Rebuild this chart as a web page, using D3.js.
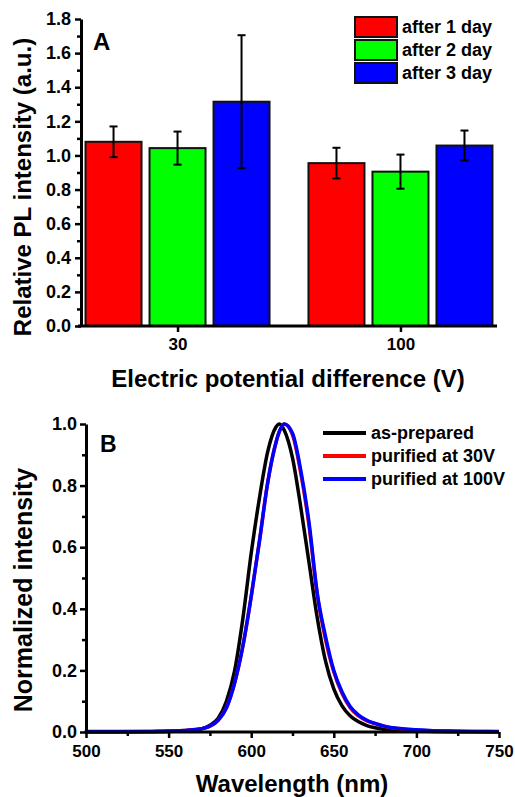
<!DOCTYPE html>
<html>
<head>
<meta charset="utf-8">
<script src="https://cdn.jsdelivr.net/npm/d3@7"></script>
<style>
  html, body { margin: 0; padding: 0; background: #fff; }
  svg text { font-family: "Liberation Sans", Arial, sans-serif; font-weight: bold; fill: #000; }
</style>
</head>
<body>
<svg id="chart" width="515" height="797"></svg>
<script>
// ---- panel A data ----
const barCategories = ["30", "100"];
const barSeries = ["after 1 day", "after 2 day", "after 3 day"];
const barColors = ["#ff0000", "#00ff00", "#0000ff"];
const day1Values = [1.08, 0.955];
const day2Values = [1.043, 0.905];
const day3Values = [1.315, 1.058];
const day1Errors = [0.09, 0.09];
const day2Errors = [0.097, 0.1];
const day3Errors = [0.39, 0.088];
const barTicksY = [0, 0.2, 0.4, 0.6, 0.8, 1.0, 1.2, 1.4, 1.6, 1.8];

// ---- panel B data ----
const wavelengths = [500, 520, 540, 550, 555, 560, 565, 570, 575, 580, 585, 590, 595, 600, 605, 610, 615, 617, 620,
  625, 630, 635, 640, 645, 650, 655, 660, 665, 670, 675, 680, 690, 700, 710, 720, 735, 750];
const asPrepared = [0, 0, 0.001, 0.002, 0.003, 0.004, 0.006, 0.01, 0.022, 0.045, 0.1, 0.2, 0.37, 0.58, 0.76, 0.91, 0.99, 1.0, 0.98,
  0.89, 0.73, 0.55, 0.37, 0.23, 0.14, 0.085, 0.052, 0.033, 0.021, 0.014, 0.009, 0.005, 0.003, 0.002, 0.001, 0.0005, 0];
const purified30 = [0.001, 0.001, 0.002, 0.003, 0.004, 0.005, 0.007, 0.011, 0.019, 0.038, 0.08, 0.16, 0.28, 0.44, 0.62, 0.81, 0.94, 0.975, 1.0,
  0.965, 0.84, 0.67, 0.445, 0.3, 0.195, 0.125, 0.078, 0.052, 0.036, 0.027, 0.019, 0.01, 0.006, 0.004, 0.003, 0.002, 0.001];
const purified100 = [0.002, 0.002, 0.002, 0.003, 0.004, 0.005, 0.007, 0.011, 0.019, 0.038, 0.078, 0.16, 0.28, 0.44, 0.62, 0.81, 0.94, 0.975, 1.0,
  0.97, 0.85, 0.68, 0.45, 0.31, 0.2, 0.13, 0.082, 0.055, 0.038, 0.028, 0.02, 0.011, 0.007, 0.004, 0.003, 0.002, 0.002];
const specNames = ["as-prepared", "purified at 30V", "purified at 100V"];
const specColors = ["#000000", "#ff0000", "#0000ff"];
const specTicksX = [500, 550, 600, 650, 700, 750];
const specTicksY = [0, 0.2, 0.4, 0.6, 0.8, 1.0];

const svg = d3.select("#chart");

function styleAxis(g, fontSize) {
  g.select(".domain").attr("stroke", "#000").attr("stroke-width", 3);
  g.selectAll(".tick line").attr("stroke", "#000").attr("stroke-width", 2.5);
  g.selectAll(".tick text").style("font-size", fontSize + "px");
  g.attr("font-family", null);
}

// ================= Panel A =================
const aLeft = 81, aRight = 497, aTop = 19, aBottom = 326;

const xA = d3.scalePoint().domain(barCategories).range([aLeft, aRight]).padding(0.433);
const subA = d3.scaleBand().domain(barSeries).range([-96, 96]).paddingInner(0.125).paddingOuter(0.0625);
const yA = d3.scaleLinear().domain([0, 1.8]).range([aBottom, aTop]);

const barValues = [day1Values, day2Values, day3Values];
const barErrors = [day1Errors, day2Errors, day3Errors];
const barRows = [];
barSeries.forEach((s, si) => {
  barCategories.forEach((c, ci) => {
    barRows.push({ cat: c, series: s, color: barColors[si], value: barValues[si][ci], err: barErrors[si][ci] });
  });
});

const barG = svg.append("g");
barG.selectAll("rect").data(barRows).enter().append("rect")
  .attr("x", d => xA(d.cat) + subA(d.series))
  .attr("y", d => yA(d.value))
  .attr("width", subA.bandwidth())
  .attr("height", d => yA(0) - yA(d.value))
  .attr("fill", d => d.color)
  .attr("stroke", "#111")
  .attr("stroke-width", 2);

const errG = svg.append("g").attr("stroke", "#000").attr("stroke-width", 2);
barRows.forEach(d => {
  const cx = xA(d.cat) + subA(d.series) + subA.bandwidth() / 2;
  const y1 = yA(d.value + d.err), y0 = yA(d.value - d.err);
  errG.append("line").attr("x1", cx).attr("x2", cx).attr("y1", y1).attr("y2", y0);
  errG.append("line").attr("x1", cx - 4).attr("x2", cx + 4).attr("y1", y1).attr("y2", y1);
  errG.append("line").attr("x1", cx - 4).attr("x2", cx + 4).attr("y1", y0).attr("y2", y0);
});

// y axis A (minor ticks then major)
const minorA = d3.range(0.1, 1.8, 0.2);
svg.append("g").attr("transform", `translate(${aLeft},0)`)
  .call(d3.axisLeft(yA).tickValues(minorA).tickSize(4).tickFormat(""))
  .call(g => { styleAxis(g, 18); g.select(".domain").remove(); });
svg.append("g").attr("transform", `translate(${aLeft},0)`)
  .call(d3.axisLeft(yA).tickValues(barTicksY).tickSize(6).tickSizeOuter(0).tickPadding(4).tickFormat(d3.format(".1f")))
  .call(g => styleAxis(g, 18));

// x axis A
svg.append("g").attr("transform", `translate(0,${aBottom})`)
  .call(d3.axisBottom(xA).tickSize(6).tickSizeOuter(0).tickPadding(6))
  .call(g => { styleAxis(g, 17); g.select(".domain").attr("d", `M${aLeft - 3},0H${aRight}`); });

svg.append("text").attr("x", 93).attr("y", 50).style("font-size", "24px").text("A");

svg.append("text").attr("transform", "translate(31,187) rotate(-90)")
  .attr("text-anchor", "middle").style("font-size", "24px").text("Relative PL intensity (a.u.)");
svg.append("text").attr("x", 288).attr("y", 387)
  .attr("text-anchor", "middle").style("font-size", "24px").text("Electric potential difference (V)");

// legend A
const legA = svg.append("g").attr("transform", "translate(355,17)");
barSeries.forEach((s, i) => {
  const row = legA.append("g").attr("transform", `translate(0,${i * 23})`);
  row.append("rect").attr("width", 42).attr("height", 20)
    .attr("fill", barColors[i]).attr("stroke", "#111").attr("stroke-width", 2);
  row.append("text").attr("x", 47).attr("y", 10).attr("dy", "0.35em")
    .style("font-size", "18px").text(s);
});

// ================= Panel B =================
const bLeft = 86, bRight = 499, bTop = 424, bBottom = 732;
const xB = d3.scaleLinear().domain([500, 750]).range([bLeft, bRight]);
const yB = d3.scaleLinear().domain([0, 1]).range([bBottom, bTop]);

const specData = [asPrepared, purified30, purified100];
const line = d3.line().x((d, i) => xB(wavelengths[i])).y(d => yB(d)).curve(d3.curveMonotoneX);
specData.forEach((vals, i) => {
  svg.append("path").datum(vals)
    .attr("d", line)
    .attr("fill", "none")
    .attr("stroke", specColors[i])
    .attr("stroke-width", 3.5)
    .attr("stroke-linejoin", "round");
});

svg.append("g").attr("transform", `translate(${bLeft},0)`)
  .call(d3.axisLeft(yB).tickValues(d3.range(0.1, 1, 0.2)).tickSize(4).tickFormat(""))
  .call(g => { styleAxis(g, 18); g.select(".domain").remove(); });
svg.append("g").attr("transform", `translate(${bLeft},0)`)
  .call(d3.axisLeft(yB).tickValues(specTicksY).tickSize(6).tickSizeOuter(0).tickPadding(3).tickFormat(d3.format(".1f")))
  .call(g => styleAxis(g, 18));

svg.append("g").attr("transform", `translate(0,${bBottom})`)
  .call(d3.axisBottom(xB).tickValues(d3.range(525, 750, 50)).tickSize(4).tickFormat(""))
  .call(g => { styleAxis(g, 17); g.select(".domain").remove(); });
svg.append("g").attr("transform", `translate(0,${bBottom})`)
  .call(d3.axisBottom(xB).tickValues(specTicksX).tickSize(6).tickSizeOuter(0).tickPadding(7).tickFormat(d3.format("d")))
  .call(g => { styleAxis(g, 17); g.select(".domain").attr("d", `M${bLeft - 1.5},0H${bRight}`); });

svg.append("text").attr("x", 100).attr("y", 452).style("font-size", "23px").text("B");

svg.append("text").attr("transform", "translate(32,590) rotate(-90)")
  .attr("text-anchor", "middle").style("font-size", "25px").text("Normalized intensity");
svg.append("text").attr("x", 292).attr("y", 792)
  .attr("text-anchor", "middle").style("font-size", "24px").text("Wavelength (nm)");

const legB = svg.append("g").attr("transform", "translate(323,433)");
specNames.forEach((s, i) => {
  const row = legB.append("g").attr("transform", `translate(0,${i * 23})`);
  row.append("line").attr("x1", 0).attr("x2", 43).attr("y1", 0).attr("y2", 0)
    .attr("stroke", specColors[i]).attr("stroke-width", 4);
  row.append("text").attr("x", 48).attr("y", 0).attr("dy", "0.35em")
    .style("font-size", "18px").text(s);
});
</script>
</body>
</html>
